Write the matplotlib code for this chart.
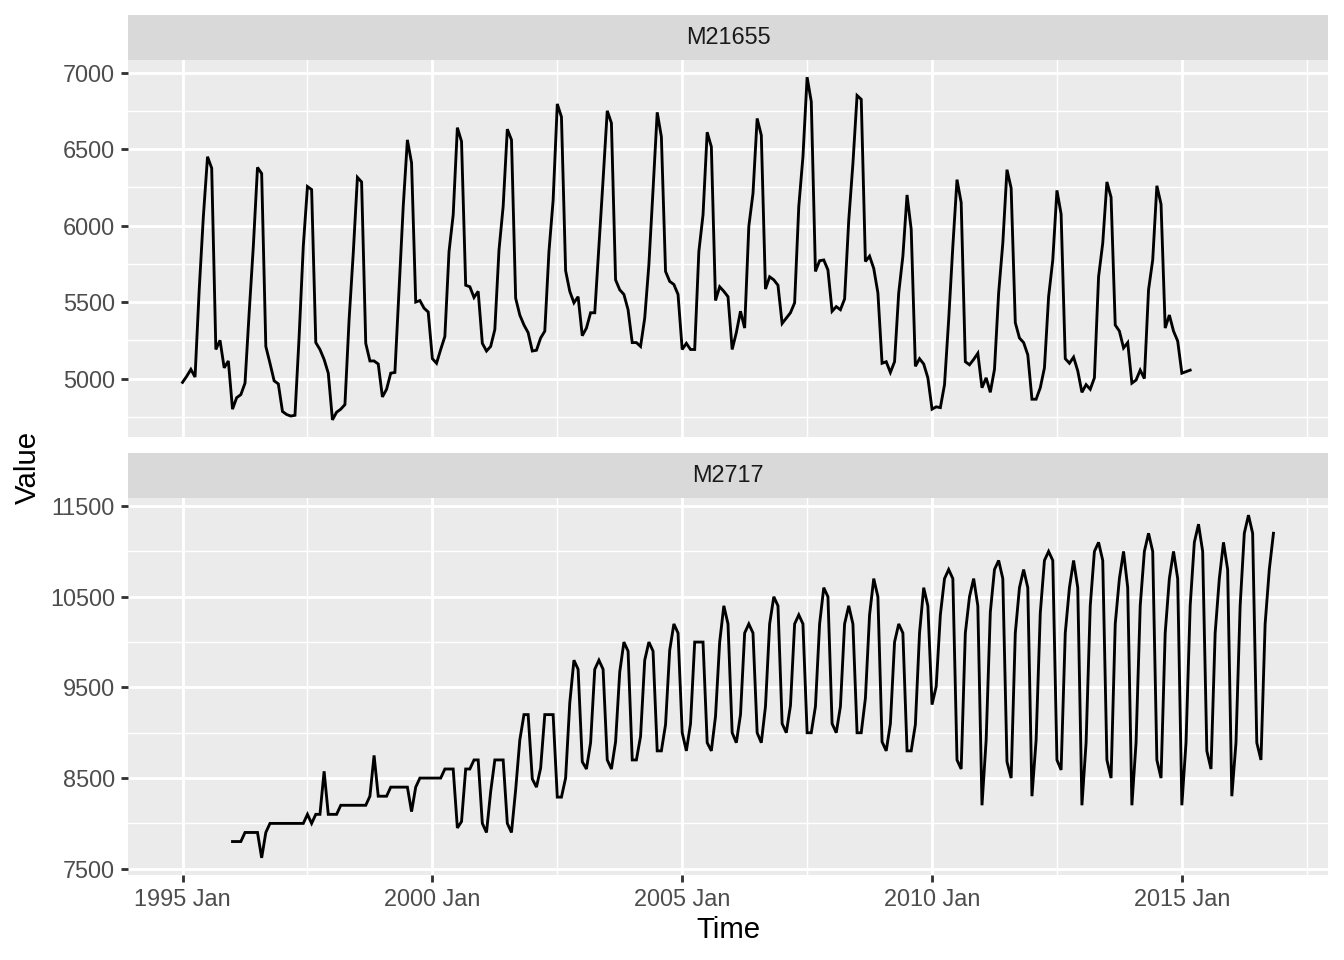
import numpy as np
import matplotlib
matplotlib.use("Agg")
import matplotlib.pyplot as plt
from matplotlib.ticker import FixedLocator

plt.rcParams['font.family'] = ['Liberation Sans', 'DejaVu Sans']

# monthly series
m21655_start = 1995.0
m21655 = [
    4975, 5015, 5060, 5010, 5580, 6060, 6450, 6375, 5190, 5250, 5070, 5115,
    4800, 4875, 4895, 4970, 5430, 5865, 6380, 6340, 5210, 5100, 4985, 4965,
    4785, 4765, 4755, 4760, 5275, 5865, 6255, 6235, 5235, 5190, 5125, 5035,
    4730, 4780, 4800, 4830, 5385, 5820, 6315, 6285, 5230, 5115, 5115, 5095,
    4880, 4930, 5035, 5040, 5580, 6125, 6560, 6410, 5500, 5510, 5460, 5435,
    5130, 5100, 5190, 5275, 5830, 6070, 6640, 6550, 5610, 5600, 5530, 5570,
    5230, 5180, 5210, 5320, 5840, 6125, 6630, 6560, 5525, 5415, 5350, 5300,
    5180, 5185, 5265, 5310, 5830, 6165, 6795, 6710, 5705, 5570, 5495, 5535,
    5280, 5330, 5430, 5430, 5865, 6300, 6750, 6670, 5645, 5580, 5550, 5450,
    5235, 5235, 5210, 5395, 5745, 6235, 6740, 6580, 5700, 5635, 5615, 5550,
    5190, 5230, 5190, 5190, 5830, 6070, 6610, 6515, 5510, 5600, 5570, 5535,
    5190, 5300, 5440, 5330, 5995, 6210, 6700, 6590, 5585, 5665, 5645, 5610,
    5360, 5395, 5430, 5495, 6125, 6450, 6970, 6810, 5700, 5770, 5775, 5710,
    5440, 5470, 5450, 5520, 6035, 6405, 6850, 6825, 5765, 5800, 5720, 5560,
    5100, 5110, 5040, 5110, 5560, 5800, 6200, 5975, 5080, 5130, 5095, 5005,
    4800, 4815, 4810, 4960, 5385, 5865, 6300, 6150, 5110, 5090, 5125, 5165,
    4940, 5005, 4910, 5060, 5560, 5885, 6365, 6245, 5365, 5265, 5235, 5155,
    4865, 4865, 4940, 5070, 5535, 5775, 6230, 6075, 5130, 5100, 5140, 5050,
    4910, 4960, 4930, 5005, 5665, 5885, 6285, 6185, 5350, 5310, 5200, 5235,
    4970, 4990, 5055, 5000, 5580, 5775, 6260, 6140, 5330, 5415, 5310, 5245,
    5035, 5045, 5055,
]

m2717_start = 1996.0
m2717 = [
    7800, 7800, 7800, 7900, 7900, 7900, 7900, 7620, 7900, 8000, 8000, 8000,
    8000, 8000, 8000, 8000, 8000, 8000, 8100, 8000, 8100, 8100, 8575, 8100,
    8100, 8100, 8200, 8200, 8200, 8200, 8200, 8200, 8200, 8300, 8750, 8300,
    8300, 8300, 8400, 8400, 8400, 8400, 8400, 8130, 8400, 8500, 8500, 8500,
    8500, 8500, 8500, 8600, 8600, 8600, 7950, 8020, 8600, 8600, 8700, 8700,
    8000, 7900, 8350, 8700, 8700, 8700, 8000, 7900, 8370, 8920, 9200, 9200,
    8490, 8400, 8610, 9200, 9200, 9200, 8290, 8290, 8500, 9330, 9800, 9700,
    8680, 8600, 8890, 9700, 9800, 9700, 8700, 8600, 8900, 9670, 10000, 9900,
    8700, 8700, 8960, 9800, 10000, 9900, 8800, 8800, 9090, 9910, 10200, 10100,
    9000, 8800, 9100, 10000, 10000, 10000, 8890, 8800, 9180, 10000, 10400, 10200,
    9000, 8890, 9200, 10100, 10200, 10100, 9000, 8890, 9290, 10200, 10500, 10400,
    9100, 9000, 9300, 10200, 10300, 10200, 9000, 9000, 9290, 10200, 10600, 10500,
    9100, 9000, 9290, 10200, 10400, 10200, 9000, 9000, 9380, 10300, 10700, 10500,
    8900, 8800, 9100, 10000, 10200, 10100, 8800, 8800, 9090, 10100, 10600, 10400,
    9310, 9510, 10300, 10700, 10800, 10700, 8700, 8600, 10100, 10500, 10700, 10400,
    8200, 8920, 10330, 10800, 10900, 10700, 8680, 8500, 10100, 10600, 10800, 10600,
    8300, 8920, 10320, 10900, 11000, 10900, 8700, 8590, 10100, 10600, 10900, 10600,
    8200, 8890, 10400, 11000, 11100, 10900, 8700, 8500, 10200, 10700, 11000, 10600,
    8200, 8890, 10400, 11000, 11200, 11000, 8700, 8500, 10100, 10700, 11000, 10700,
    8200, 8890, 10400, 11100, 11300, 11000, 8800, 8600, 10100, 10700, 11100, 10800,
    8300, 8890, 10400, 11200, 11400, 11200, 8890, 8700, 10200, 10800, 11200,
]

panel_names = ["M21655", "M2717"]
x_breaks = [1995, 2000, 2005, 2010, 2015]
x_labels = ["1995 Jan", "2000 Jan", "2005 Jan", "2010 Jan", "2015 Jan"]
y_breaks = [[5000, 5500, 6000, 6500, 7000], [7500, 8500, 9500, 10500, 11500]]

series = [
    (m21655_start + np.arange(len(m21655)) / 12, np.array(m21655)),
    (m2717_start + np.arange(len(m2717)) / 12, np.array(m2717)),
]

W, H = 1344, 960
fig = plt.figure(figsize=(7, 5), dpi=192)

def fx(px):
    return px / W

def fy(py):
    return 1 - py / H

left, right = 128, 1328
panels = [(15, 60, 437), (453, 498, 875)]  # strip top, panel top, panel bottom

# shared x range with 5% expansion
xmin = min(s[0].min() for s in series)
xmax = max(s[0].max() for s in series)
xpad = 0.05 * (xmax - xmin)
xlim = (xmin - xpad, xmax + xpad)

tick_col = "#4D4D4D"
grid_major = 1.07
grid_minor = 0.53

for i, ((x, y), name, (st, pt, pb)) in enumerate(zip(series, panel_names, panels)):
    ax = fig.add_axes([fx(left), fy(pb), fx(right - left), fy(pt) - fy(pb)])
    ax.set_facecolor("#EBEBEB")
    ax.plot(x, y, color="black", lw=1.07, solid_joinstyle="miter")
    ax.set_xlim(xlim)
    ypad = 0.05 * (y.max() - y.min())
    ax.set_ylim(y.min() - ypad, y.max() + ypad)

    yb = y_breaks[i]
    step = yb[1] - yb[0]
    ax.yaxis.set_major_locator(FixedLocator(yb))
    ax.yaxis.set_minor_locator(FixedLocator(np.arange(yb[0] - step / 2, yb[-1] + step, step)))
    ax.xaxis.set_major_locator(FixedLocator(x_breaks))
    ax.xaxis.set_minor_locator(FixedLocator(np.arange(1992.5, 2020, 5)))

    ax.grid(which="major", color="white", lw=grid_major)
    ax.grid(which="minor", color="white", lw=grid_minor)
    ax.set_axisbelow(True)
    for sp in ax.spines.values():
        sp.set_visible(False)

    ax.tick_params(which="minor", length=0)
    ax.tick_params(which="major", length=2.75, width=1.07, color="#333333",
                   labelsize=8.8, labelcolor=tick_col, pad=2.2)
    ax.set_yticklabels([str(v) for v in yb])
    if i == 0:
        ax.tick_params(axis="x", which="both", length=0, labelbottom=False)
    else:
        ax.set_xticklabels(x_labels)

    # facet strip
    sax = fig.add_axes([fx(left), fy(pt), fx(right - left), fy(st) - fy(pt)])
    sax.set_facecolor("#D9D9D9")
    sax.set_xticks([])
    sax.set_yticks([])
    for sp in sax.spines.values():
        sp.set_visible(False)
    sax.text(0.5, 0.5, name, ha="center", va="center", fontsize=8.8,
             color="#1A1A1A", transform=sax.transAxes)

fig.text(fx((left + right) / 2), fy(930), "Time", ha="center", va="center", fontsize=11)
fig.text(fx(28), fy(467), "Value", ha="center", va="center", rotation=90, fontsize=11)

fig.savefig("out.png", dpi=192, facecolor="white")
